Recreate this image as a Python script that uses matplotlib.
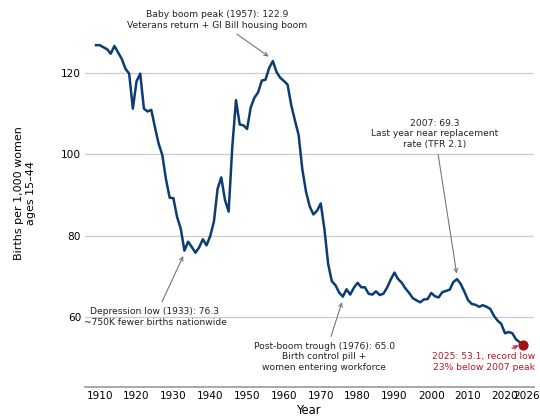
import matplotlib
matplotlib.use('Agg')
import matplotlib.pyplot as plt

years = list(range(1909, 2026))
gfr = [126.8, 126.8, 126.3, 125.8, 124.7, 126.6, 125.0, 123.4, 121.0, 119.8,
       111.2, 117.9, 119.8, 111.2, 110.5, 110.9, 106.6, 102.6, 99.8, 93.8,
       89.3, 89.2, 84.6, 81.7, 76.3, 78.5, 77.2, 75.8, 77.1, 79.1,
       77.6, 79.9, 83.4, 91.5, 94.3, 88.8, 85.9, 101.9, 113.3, 107.3,
       107.1, 106.2, 111.5, 113.9, 115.2, 118.1, 118.3, 121.2, 122.9, 120.2,
       118.8, 118.0, 117.1, 112.0, 108.3, 104.7, 96.3, 90.8, 87.2, 85.2,
       86.1, 87.9, 81.6, 73.1, 68.8, 67.8, 66.0, 65.0, 66.8, 65.5,
       67.2, 68.4, 67.3, 67.3, 65.7, 65.5, 66.3, 65.4, 65.7, 67.2,
       69.2, 70.9, 69.3, 68.4, 67.0, 65.9, 64.6, 64.1, 63.6, 64.3,
       64.4, 65.9, 65.1, 64.8, 66.1, 66.4, 66.7, 68.6, 69.3, 68.1,
       66.2, 64.1, 63.2, 63.0, 62.5, 62.9, 62.5, 62.0, 60.3, 59.1,
       58.3, 56.0, 56.3, 56.0, 54.5, 53.8, 53.1]
xticks = [1910, 1920, 1930, 1940, 1950, 1960, 1970, 1980, 1990, 2000, 2010, 2020, 2026]

line_col = '#0b3c73'
red = '#b2182b'
fs = 6.6

fig = plt.figure(figsize=(5.4, 4.17), dpi=100)
ax = fig.add_axes([0.158, 0.073, 0.831, 0.927])

ax.plot(years, gfr, color=line_col, lw=1.8, zorder=3)
ax.scatter([years[-1]], [gfr[-1]], s=40, color='#a50f15', zorder=4)

ax.set_xlim(1906.1, 2027.9)
ax.set_ylim(42.9, 137.9)
ax.set_yticks([60, 80, 100, 120])
ax.set_xticks(xticks)
ax.grid(axis='y', color='#cccccc', lw=0.9)
ax.set_axisbelow(True)
for s in ['top', 'right', 'left']:
    ax.spines[s].set_visible(False)
ax.spines['bottom'].set_color('#999999')
ax.spines['bottom'].set_linewidth(1.2)
ax.tick_params(axis='both', length=0, labelsize=7.6, pad=3)
ax.set_xlabel('Year', fontsize=8.3, labelpad=2)
ax.set_ylabel('Births per 1,000 women\nages 15\u201344', fontsize=8.0, labelpad=18)

arrow_gray = dict(arrowstyle='->', color='#777777', lw=0.8)

def note(txt, xy, xytext, col='#222222', arr=arrow_gray):
    ax.annotate(txt, xy=xy, xytext=xytext, ha='center', va='center',
                fontsize=fs, color=col, arrowprops=arr, annotation_clip=False)

note('Baby boom peak (1957): 122.9\nVeterans return + GI Bill housing boom',
     (1956.5, 123.6), (1941.8, 133.0))
note('2007: 69.3\nLast year near replacement\nrate (TFR 2.1)',
     (2007, 70.0), (2001, 105.0))
note('Depression low (1933): 76.3\n~750K fewer births nationwide',
     (1933, 75.6), (1925, 60.0))
note('Post-boom trough (1976): 65.0\nBirth control pill +\nwomen entering workforce',
     (1976, 64.3), (1971, 50.2))
note('2025: 53.1, record low\n23% below 2007 peak',
     (2024.3, 53.3), (2014.2, 48.9), col=red,
     arr=dict(arrowstyle='->', color=red, lw=0.8))

fig.savefig('out.png', dpi=100)
